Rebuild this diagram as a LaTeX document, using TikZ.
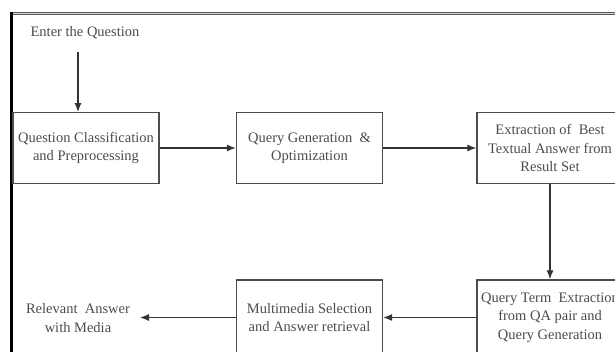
\documentclass[tikz,border=0pt]{standalone}
\usepackage{fontspec}
\setmainfont{Liberation Serif}
\usetikzlibrary{arrows.meta}
\definecolor{boxline}{gray}{0.3}
\definecolor{txt}{gray}{0.3}
\tikzset{
  blk/.style={draw=boxline, line width=1.3pt, minimum width=146pt, minimum height=71pt,
    align=center, inner sep=1pt, text=txt, font=\fontsize{14.5}{18.5}\selectfont},
  lowblk/.style={blk, minimum height=75pt},
  lbl/.style={align=center, text=txt, font=\fontsize{14.5}{18.5}\selectfont, inner sep=1pt},
  conn/.style={draw=black!80, line width=1.2pt, -{Latex[length=9pt,width=7pt]}}
}
\begin{document}
\begin{tikzpicture}[x=1pt,y=-1pt]
\useasboundingbox (0,0) rectangle (615,351);
\fill[white] (0,0) rectangle (615,351);
% frame
\draw[gray!70!black, line width=3pt] (10,13.5) -- (620,13.5);
\draw[gray!35, line width=0.8pt] (13,13.5) -- (620,13.5);
\draw[black, line width=3pt] (11.5,12) -- (11.5,360);
% nodes
\node[lbl] (enter) at (85,33) {Enter the Question};
\coordinate (estart) at (78,52);
\node[blk] (b1) at (86,148) {Question Classification\\and Preprocessing};
\node[blk] (b2) at (309.5,148) {Query Generation~~\&\\Optimization};
\node[blk] (b3) at (550,148) {Extraction of~~Best\\Textual Answer from\\Result Set};
\node[lowblk] (b4) at (550,317.5) {Query Term~~Extraction\\from QA pair and\\Query Generation};
\node[lowblk] (b5) at (309.5,317.5) {Multimedia Selection\\and Answer retrieval};
\node[lbl] (rel) at (78,318) {Relevant~~Answer\\with Media};
\coordinate (relend) at (140,317.5);
% connectors
\draw[conn] (estart) -- (78,112);
\draw[conn] (b1) -- (b2);
\draw[conn] (b2) -- (b3);
\draw[conn] (b3) -- (b4);
\draw[conn] (b4) -- (b5);
\draw[conn] (b5.west) -- (relend);
\end{tikzpicture}
\end{document}
